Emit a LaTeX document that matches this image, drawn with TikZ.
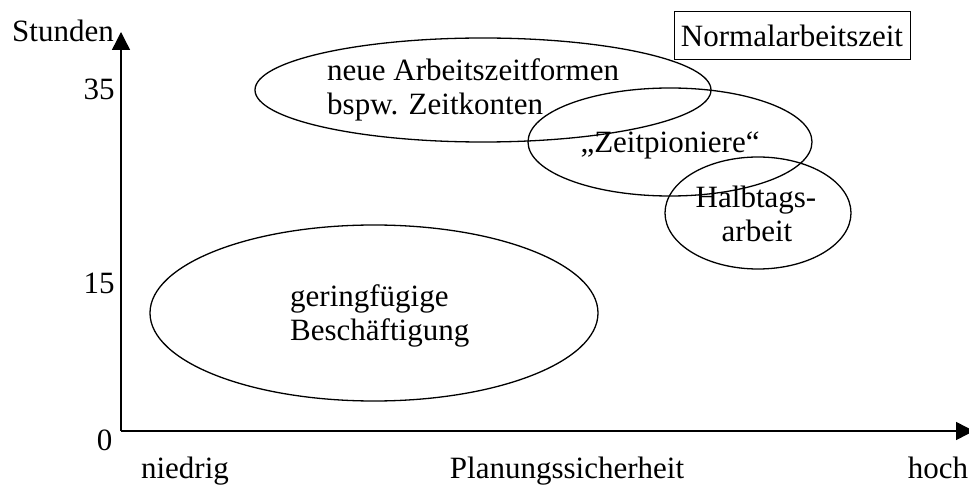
\documentclass[tikz,border=0pt]{standalone}
\usepackage{fontspec}
\setmainfont{Liberation Serif}
\usetikzlibrary{shapes.geometric,arrows.meta}
\begin{document}
\begin{tikzpicture}[x=1pt,y=-1pt,
  txt/.style={font=\fontsize{31}{34}\selectfont, inner sep=0pt},
  oval/.style={draw, ellipse, line width=1.3pt, inner sep=0pt},
  axis/.style={line width=1.4pt, -{Triangle[length=18pt,width=18pt]}}]
\useasboundingbox (0,0) rectangle (969,486);
\coordinate (O) at (121,431);
\coordinate (ytop) at (121,32);
\coordinate (xend) at (974,431);
\draw[axis] (O) -- (ytop);
\draw[axis] (O) -- (xend);
% axis labels
\node[txt, anchor=base] (stunden) at (63,42) {Stunden};
\node[txt, anchor=base] (y35) at (99,100) {35};
\node[txt, anchor=base] (y15) at (99,294) {15};
\node[txt, anchor=base] (y0) at (104.5,450) {0};
\node[txt, anchor=base] (niedrig) at (185,478) {niedrig};
\node[txt, anchor=base] (plan) at (567,478) {Planungssicherheit};
\node[txt, anchor=base] (hoch) at (938,478) {hoch};
% legend box
\node[draw, line width=1pt, txt, minimum width=236pt, minimum height=48pt] (norm) at (792,36) {Normalarbeitszeit};
% ellipses
\node[oval, minimum width=456pt, minimum height=104pt] (e1) at (483,90) {};
\node[oval, minimum width=284pt, minimum height=108pt] (e2) at (670,142) {};
\node[oval, minimum width=186pt, minimum height=112pt] (e3) at (758,213) {};
\node[oval, minimum width=448pt, minimum height=176pt] (e4) at (374,313) {};
% ellipse texts
\node[txt, anchor=base west] (t1a) at (327,81) {neue Arbeitszeitformen};
\node[txt, anchor=base west] (t1b) at (327,115) {bspw. Zeitkonten};
\node[txt, anchor=base] (t2) at (670,153) {„Zeitpioniere“};
\node[txt, anchor=base] (t3a) at (756,208) {Halbtags-};
\node[txt, anchor=base] (t3b) at (757,242) {arbeit};
\node[txt, anchor=base west] (t4a) at (290,306) {geringfügige};
\node[txt, anchor=base west] (t4b) at (290,341) {Beschäftigung};
\end{tikzpicture}
\end{document}
